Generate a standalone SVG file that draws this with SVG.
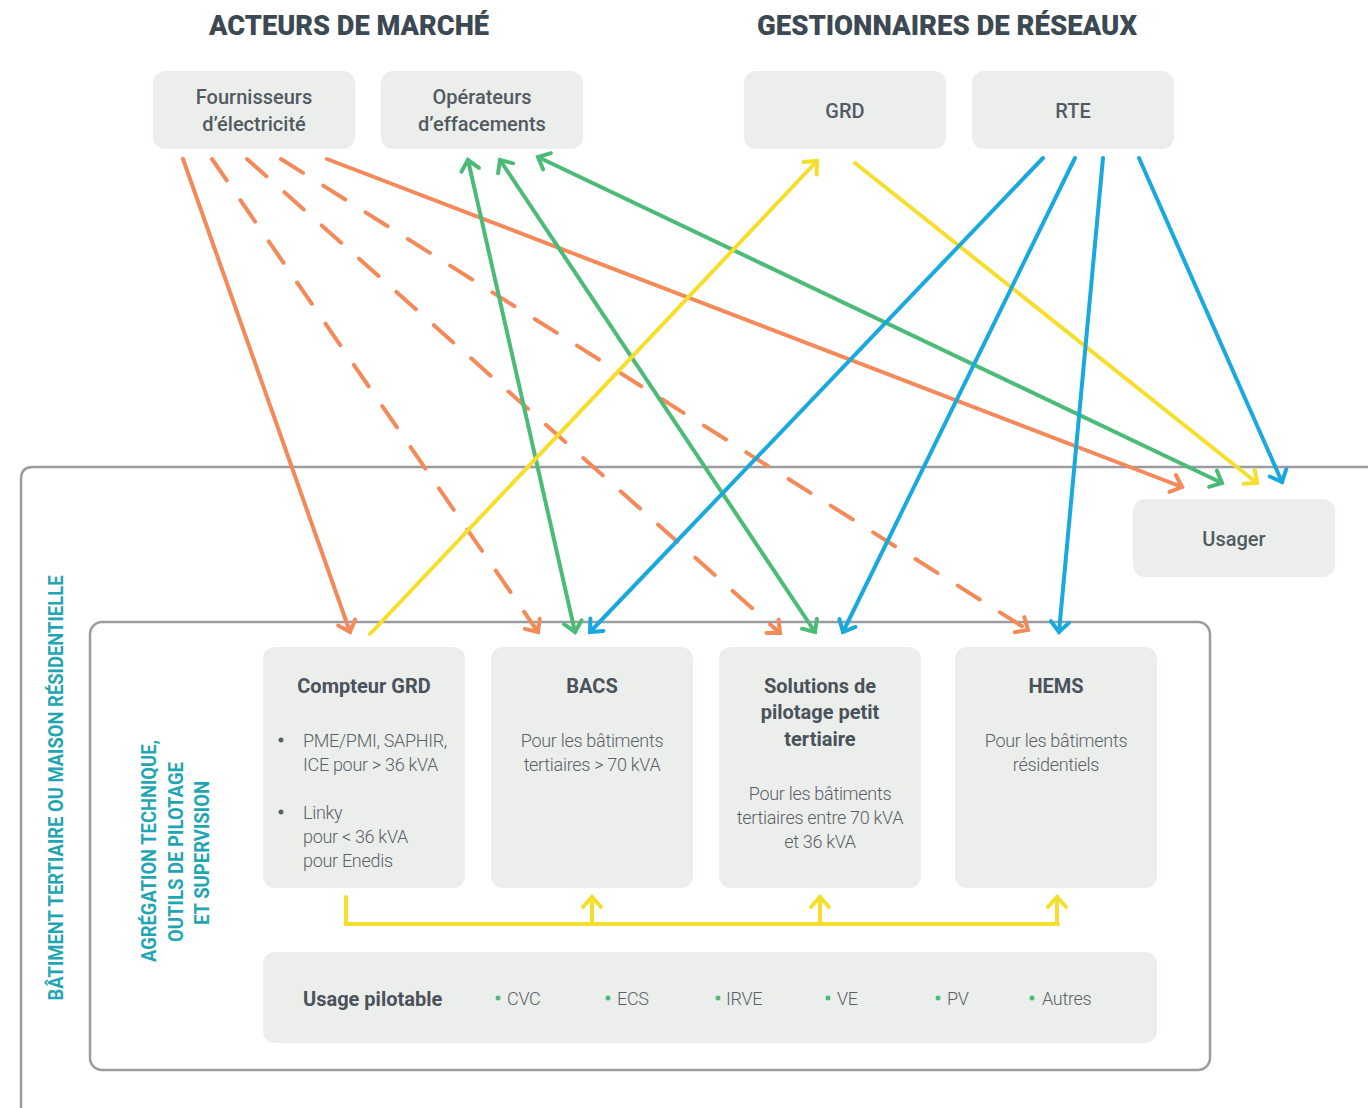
<svg xmlns="http://www.w3.org/2000/svg" width="1368" height="1108" viewBox="0 0 1368 1108">
<style>
.box{fill:#eceeec}
.t{font-family:Roboto,"Liberation Sans",sans-serif;fill:#525a62;text-anchor:middle}
.tm{font-size:20px;font-weight:500}
.tb{font-size:20px;font-weight:700;fill:#4a525a}
.tl{font-size:18px;font-weight:300;fill:#5a6168;letter-spacing:-0.3px}
.title{font-family:Roboto,"Liberation Sans",sans-serif;font-size:28px;font-weight:900;fill:#3c4852}
.v{font-family:Roboto,"Liberation Sans",sans-serif;font-weight:700;fill:#1fa6b2;text-anchor:middle}
.c{fill:none;stroke-width:4;stroke-linecap:round}
.o{stroke:#f4895a}.g{stroke:#4dbb78}.y{stroke:#f6df2c}.b{stroke:#1aa9df}
.d{stroke-dasharray:26 24}
.frame{fill:none;stroke:#9b9ca1;stroke-width:2.5}
</style>
<defs>
<marker id="mo" markerUnits="userSpaceOnUse" markerWidth="30" markerHeight="30" viewBox="-15 -15 30 30" refX="0" refY="0" orient="auto-start-reverse"><path d="M-10,-9 L0,0 L-10,9" fill="none" stroke="#f4895a" stroke-width="4" stroke-linecap="round"/></marker>
<marker id="mg" markerUnits="userSpaceOnUse" markerWidth="30" markerHeight="30" viewBox="-15 -15 30 30" refX="0" refY="0" orient="auto-start-reverse"><path d="M-10,-9 L0,0 L-10,9" fill="none" stroke="#4dbb78" stroke-width="4" stroke-linecap="round"/></marker>
<marker id="my" markerUnits="userSpaceOnUse" markerWidth="30" markerHeight="30" viewBox="-15 -15 30 30" refX="0" refY="0" orient="auto-start-reverse"><path d="M-10,-9 L0,0 L-10,9" fill="none" stroke="#f6df2c" stroke-width="4" stroke-linecap="round"/></marker>
<marker id="mb" markerUnits="userSpaceOnUse" markerWidth="30" markerHeight="30" viewBox="-15 -15 30 30" refX="0" refY="0" orient="auto-start-reverse"><path d="M-10,-9 L0,0 L-10,9" fill="none" stroke="#1aa9df" stroke-width="4" stroke-linecap="round"/></marker>
</defs>
<rect width="1368" height="1108" fill="#ffffff"/>

<g id="frames">
<path class="frame" d="M21,1108 V479 Q21,467 33,467 H1368"/>
<rect class="frame" x="90" y="622" width="1120" height="448" rx="12"/>
<text class="v" font-size="21" transform="translate(63,788) rotate(-90)" textLength="425" lengthAdjust="spacingAndGlyphs">BÂTIMENT TERTIAIRE OU MAISON RÉSIDENTIELLE</text>
<text class="v" font-size="20" transform="translate(156,851) rotate(-90)" textLength="222" lengthAdjust="spacingAndGlyphs">AGRÉGATION TECHNIQUE,</text>
<text class="v" font-size="20" transform="translate(183,852) rotate(-90)" textLength="180" lengthAdjust="spacingAndGlyphs">OUTILS DE PILOTAGE</text>
<text class="v" font-size="20" transform="translate(209,853) rotate(-90)" textLength="144" lengthAdjust="spacingAndGlyphs">ET SUPERVISION</text>
</g>

<g id="titles">
<text class="title" x="209" y="35" textLength="280" lengthAdjust="spacingAndGlyphs">ACTEURS DE MARCHÉ</text>
<text class="title" x="757" y="35" textLength="380" lengthAdjust="spacingAndGlyphs">GESTIONNAIRES DE RÉSEAUX</text>
</g>

<g id="fournisseurs"><rect class="box" x="153" y="71" width="202" height="78" rx="12"/>
<text class="t tm" x="254" y="104">Fournisseurs</text><text class="t tm" x="254" y="131">d’électricité</text></g>
<g id="operateurs"><rect class="box" x="381" y="71" width="202" height="78" rx="12"/>
<text class="t tm" x="482" y="104">Opérateurs</text><text class="t tm" x="482" y="131">d’effacements</text></g>
<g id="grd"><rect class="box" x="744" y="71" width="202" height="78" rx="12"/>
<text class="t tm" x="845" y="118">GRD</text></g>
<g id="rte"><rect class="box" x="972" y="71" width="202" height="78" rx="12"/>
<text class="t tm" x="1073" y="118">RTE</text></g>
<g id="usager"><rect class="box" x="1133" y="499" width="202" height="78" rx="12"/>
<text class="t tm" x="1234" y="546">Usager</text></g>

<g id="compteur"><rect class="box" x="263" y="647" width="202" height="241" rx="12"/>
<text class="t tb" x="364" y="693">Compteur GRD</text>
<circle cx="281" cy="740" r="2.5" fill="#5a6168"/><circle cx="281" cy="812" r="2.5" fill="#5a6168"/>
<g class="t tl" style="text-anchor:start">
<text x="303" y="747">PME/PMI, SAPHIR,</text>
<text x="303" y="771">ICE pour &gt; 36 kVA</text>
<text x="303" y="819">Linky</text>
<text x="303" y="843">pour &lt; 36 kVA</text>
<text x="303" y="867">pour Enedis</text>
</g></g>
<g id="bacs"><rect class="box" x="491" y="647" width="202" height="241" rx="12"/>
<text class="t tb" x="592" y="693">BACS</text>
<text class="t tl" x="592" y="747">Pour les bâtiments</text>
<text class="t tl" x="592" y="771">tertiaires &gt; 70 kVA</text></g>
<g id="solutions"><rect class="box" x="719" y="647" width="202" height="241" rx="12"/>
<text class="t tb" x="820" y="693">Solutions de</text>
<text class="t tb" x="820" y="719">pilotage petit</text>
<text class="t tb" x="820" y="746">tertiaire</text>
<text class="t tl" x="820" y="800">Pour les bâtiments</text>
<text class="t tl" x="820" y="824">tertiaires entre 70 kVA</text>
<text class="t tl" x="820" y="848">et 36 kVA</text></g>
<g id="hems"><rect class="box" x="955" y="647" width="202" height="241" rx="12"/>
<text class="t tb" x="1056" y="693">HEMS</text>
<text class="t tl" x="1056" y="747">Pour les bâtiments</text>
<text class="t tl" x="1056" y="771">résidentiels</text></g>

<g id="usage-pilotable"><rect class="box" x="263" y="952" width="894" height="91" rx="12"/>
<text class="t tb" x="303" y="1006" style="text-anchor:start">Usage pilotable</text>
<g fill="#4dbb78"><circle cx="498" cy="998" r="2.5"/><circle cx="608" cy="998" r="2.5"/><circle cx="718" cy="998" r="2.5"/><circle cx="828" cy="998" r="2.5"/><circle cx="938" cy="998" r="2.5"/><circle cx="1032" cy="998" r="2.5"/></g>
<g class="t tl" style="text-anchor:start">
<text x="507" y="1005">CVC</text><text x="617" y="1005">ECS</text><text x="726" y="1005">IRVE</text><text x="837" y="1005">VE</text><text x="947" y="1005">PV</text><text x="1042" y="1005">Autres</text>
</g></g>

<g id="connectors">
<line class="c o" x1="183" y1="159" x2="350" y2="632" marker-end="url(#mo)"/>
<line class="c o d" x1="212" y1="159" x2="538" y2="632" marker-end="url(#mo)"/>
<line class="c o d" x1="247" y1="159" x2="780" y2="633" marker-end="url(#mo)"/>
<line class="c o d" x1="281" y1="159" x2="1028" y2="630" marker-end="url(#mo)"/>
<line class="c o" x1="327" y1="159" x2="1182" y2="487" marker-end="url(#mo)"/>
<line class="c g" x1="468" y1="160" x2="575" y2="632" marker-start="url(#mg)" marker-end="url(#mg)"/>
<line class="c g" x1="500" y1="160" x2="815" y2="632" marker-start="url(#mg)" marker-end="url(#mg)"/>
<line class="c g" x1="538" y1="157" x2="1222" y2="483" marker-start="url(#mg)" marker-end="url(#mg)"/>
<line class="c y" x1="370" y1="634" x2="817" y2="161" marker-end="url(#my)"/>
<line class="c y" x1="855" y1="163" x2="1257" y2="483" marker-end="url(#my)"/>
<line class="c b" x1="1043" y1="158" x2="590" y2="632" marker-end="url(#mb)"/>
<line class="c b" x1="1075" y1="158" x2="843" y2="632" marker-end="url(#mb)"/>
<line class="c b" x1="1103" y1="158" x2="1059" y2="632" marker-end="url(#mb)"/>
<line class="c b" x1="1139" y1="158" x2="1282" y2="482" marker-end="url(#mb)"/>
<path class="c y" d="M346,897 V924 H1058"/>
<line class="c y" x1="592" y1="924" x2="592" y2="897" marker-end="url(#my)"/>
<line class="c y" x1="820" y1="924" x2="820" y2="897" marker-end="url(#my)"/>
<line class="c y" x1="1057" y1="924" x2="1057" y2="897" marker-end="url(#my)"/>
</g>
</svg>
